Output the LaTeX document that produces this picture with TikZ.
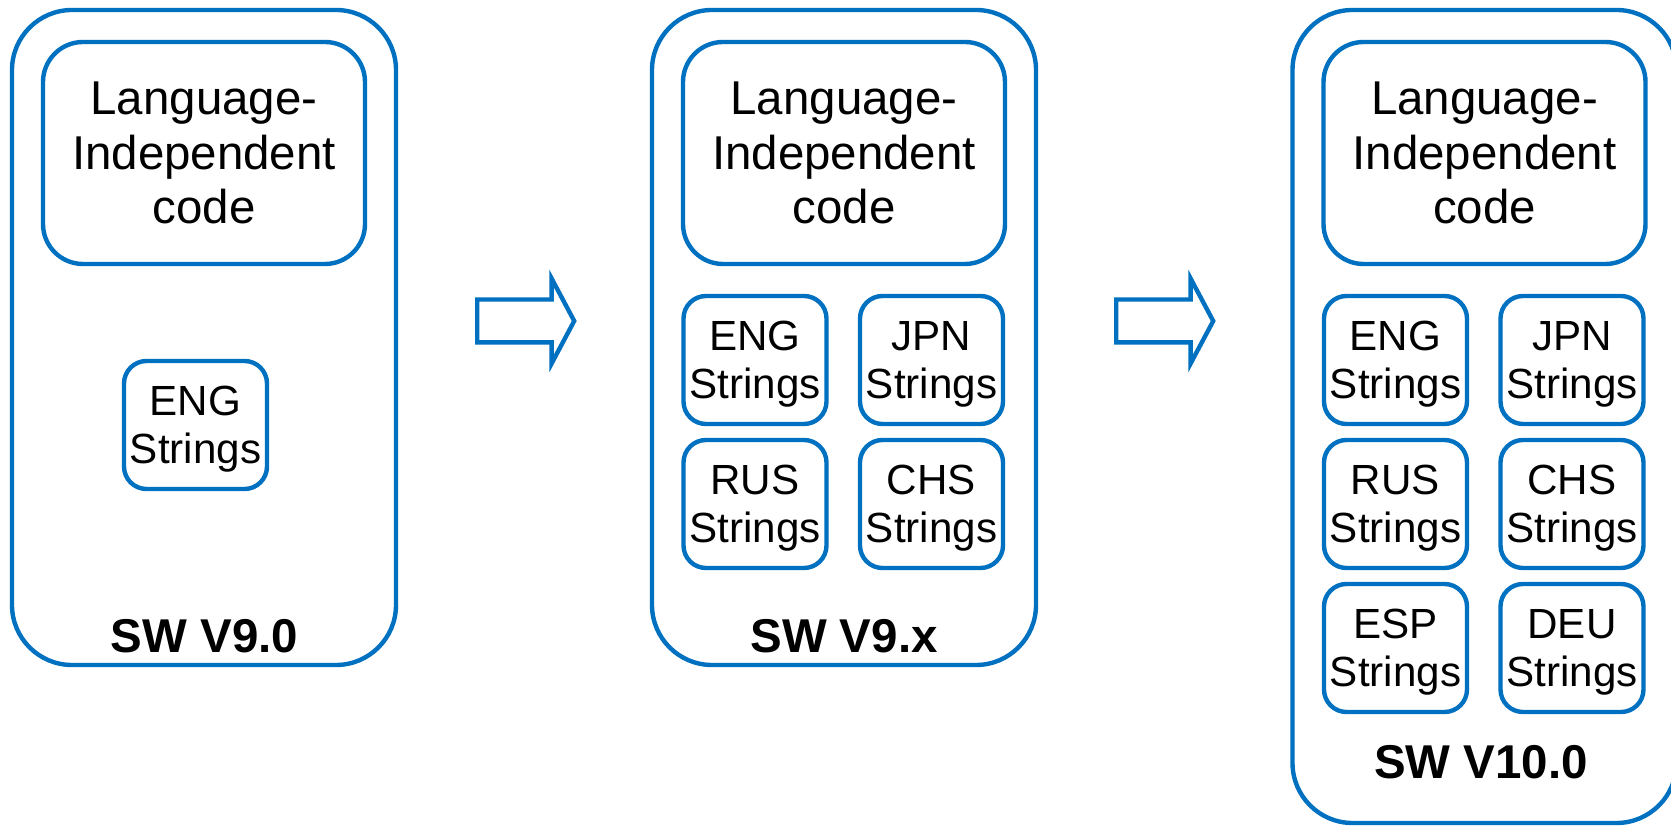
\documentclass[tikz,border=0pt]{standalone}
\usepackage{fontspec}
\setmainfont{Liberation Sans}
\usetikzlibrary{shapes.arrows}
\definecolor{swblue}{HTML}{0070C0}
\tikzset{
  release/.style={rounded corners=1.2cm,draw=swblue,line width=2.5pt,
                  minimum width=7.68cm,inner sep=0},
  corebox/.style={rounded corners=0.8cm,draw=swblue,line width=2.5pt,
                  minimum width=6.44cm,minimum height=4.44cm,inner sep=0,
                  text depth=-12pt,align=center,font=\fontsize{27}{31}\selectfont},
  strbox/.style={rounded corners=0.45cm,draw=swblue,line width=2.5pt,
                 minimum width=2.86cm,minimum height=2.56cm,inner sep=0,
                 text depth=-8pt,align=center,font=\fontsize{24}{27}\selectfont},
  verlabel/.style={font=\fontsize{27}{31}\selectfont\bfseries},
  stepflow/.style={single arrow,draw=swblue,line width=2.5pt,
                   minimum height=1.94cm,inner xsep=0,inner ysep=0.385cm,
                   single arrow head extend=0.42cm,single arrow tip angle=124}
}
\begin{document}
\begin{tikzpicture}[x=1cm,y=1cm]
  \useasboundingbox (0,0) rectangle (33.42,16.54);
  % releases
  \node[release,minimum height=13.10cm] (v90) at (4.08,9.79) {};
  \node[release,minimum height=13.10cm] (v9x) at (16.88,9.79) {};
  \node[release,minimum height=16.26cm] (v100) at (29.69,8.21) {};
  % language-independent core
  \node[corebox] (core90) at (4.08,13.48) {Language-\\Independent\\code};
  \node[corebox] (core9x) at (16.88,13.48) {Language-\\Independent\\code};
  \node[corebox] (core100) at (29.69,13.48) {Language-\\Independent\\code};
  % string tables
  \node[strbox] (eng90) at (3.91,8.04) {ENG\\Strings};
  \foreach \lang/\dx/\y in {ENG/-1.78/9.34,JPN/1.75/9.34,RUS/-1.78/6.46,CHS/1.75/6.46}{
    \node[strbox] (\lang9x) at (16.88+\dx,\y) {\lang\\Strings};}
  \foreach \lang/\dx/\y in {ENG/-1.78/9.34,JPN/1.75/9.34,RUS/-1.78/6.46,CHS/1.75/6.46,ESP/-1.78/3.58,DEU/1.75/3.58}{
    \node[strbox] (\lang100) at (29.69+\dx,\y) {\lang\\Strings};}
  % version labels
  \node[verlabel] (lab90) at (4.09,3.82) {SW V9.0};
  \node[verlabel] (lab9x) at (16.88,3.82) {SW V9.x};
  \node[verlabel] (lab100) at (29.62,1.30) {SW V10.0};
  % steps
  \node[stepflow] (step1) at (10.40,10.12) {};
  \node[stepflow] (step2) at (23.18,10.12) {};
\end{tikzpicture}
\end{document}
